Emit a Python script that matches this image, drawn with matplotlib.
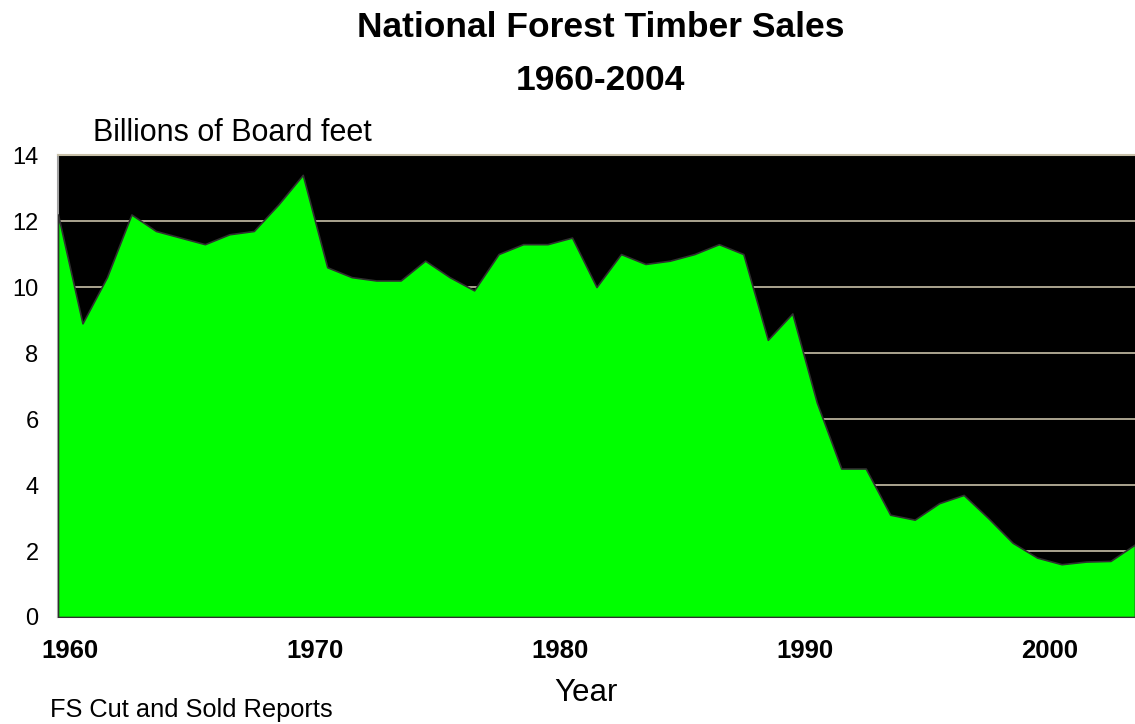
import numpy as np
import matplotlib
matplotlib.use("Agg")
import matplotlib.pyplot as plt

plt.rcParams['font.family'] = ['Liberation Sans', 'DejaVu Sans']

# timber sold, billions of board feet, 1960-2004
years = list(range(1960, 2005))
sales = [12.2, 8.9, 10.3, 12.2, 11.7, 11.5, 11.3, 11.6, 11.7, 12.5,
         13.4, 10.6, 10.3, 10.2, 10.2, 10.8, 10.3, 9.9, 11.0, 11.3,
         11.3, 11.5, 10.0, 11.0, 10.7, 10.8, 11.0, 11.3, 11.0, 8.4,
         9.2, 6.5, 4.5, 4.5, 3.1, 2.95, 3.45, 3.7, 3.0, 2.25,
         1.8, 1.6, 1.68, 1.7, 2.2]
tick_years = [1960, 1970, 1980, 1990, 2000]
yticks = [0, 2, 4, 6, 8, 10, 12, 14]

fig = plt.figure(figsize=(11.35, 7.24), dpi=100)
ax = fig.add_axes([0.0511, 0.1478, 0.9489, 0.638])

ax.set_facecolor('black')
ax.fill_between(years, sales, 0, color='#00ff00', edgecolor='#303030',
                linewidth=1.2, zorder=3)

ax.set_xlim(1960, 2004)
ax.set_ylim(0, 14)
ax.set_yticks(yticks)
ax.yaxis.grid(True, color='#c8c0a8', linewidth=1.2, zorder=1)
ax.set_axisbelow(True)
ax.tick_params(axis='y', length=0, labelsize=17, pad=14)
ax.set_xticks([y + 0.5 for y in tick_years])
ax.set_xticklabels([str(y) for y in tick_years], fontweight='bold', fontsize=18.5)
ax.tick_params(axis='x', length=0, pad=16)

ax.spines['top'].set_color('#c8c0a8')
ax.spines['top'].set_linewidth(1.5)
for s in ['left', 'bottom']:
    ax.spines[s].set_color('#a0a0a0')
    ax.spines[s].set_linewidth(1.5)
ax.spines['right'].set_visible(False)

fig.text(0.529, 0.962, 'National Forest Timber Sales', ha='center', va='center',
         fontsize=25.5, fontweight='bold')
fig.text(0.529, 0.889, '1960-2004', ha='center', va='center',
         fontsize=25.5, fontweight='bold')
fig.text(0.082, 0.816, 'Billions of Board feet', ha='left', va='center', fontsize=22)
fig.text(0.516, 0.043, 'Year', ha='center', va='center', fontsize=22.5)
fig.text(0.044, 0.019, 'FS Cut and Sold Reports', ha='left', va='center', fontsize=18.3)

fig.savefig('out.png', dpi=100)
